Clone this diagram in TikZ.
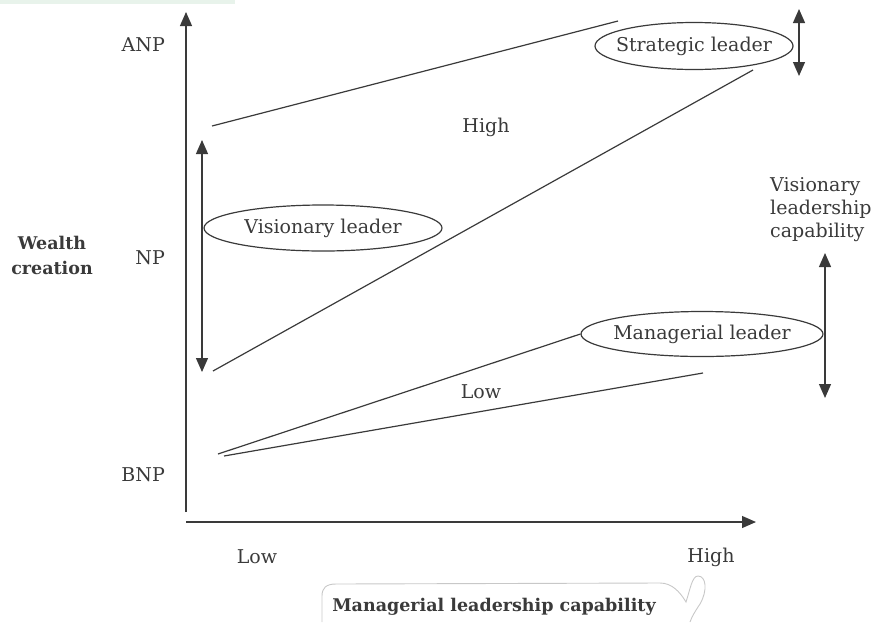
\documentclass[tikz,border=0pt]{standalone}
\usepackage{fontspec}
\setmainfont{DejaVu Serif}
\usetikzlibrary{arrows.meta,shapes.geometric}
\definecolor{ink}{HTML}{3A3A3A}
\definecolor{faint}{HTML}{C8C8C8}
\definecolor{band}{HTML}{E8F3EB}
\begin{document}
\begin{tikzpicture}[x=1pt,y=-1pt,
  every node/.style={text=ink,inner sep=0pt,font=\fontsize{19}{23}\selectfont},
  rule/.style={draw=ink,line width=1.2pt},
  tip/.style={-{Triangle[length=14pt,width=12pt]}},
  twotip/.style={{Triangle[length=14pt,width=12pt]}-{Triangle[length=14pt,width=12pt]}},
  oval/.style={ellipse,draw=ink,line width=1.2pt,inner xsep=-10pt},
  heading/.style={font=\fontsize{17.5}{25}\selectfont\bfseries,align=center}]
\useasboundingbox (0,0) rectangle (878,622);
\fill[band] (0,0) rectangle (235,4);

% axes
\coordinate (ytop) at (186,12);
\coordinate (ybot) at (186,512);
\coordinate (xleft) at (186,522);
\coordinate (xright) at (756,522);
\draw[rule,tip] (ybot) -- (ytop);
\draw[rule,tip] (xleft) -- (xright);

% axis labels
\node[anchor=east] (anp) at (165,45) {ANP};
\node[anchor=east] (np) at (165,258) {NP};
\node[anchor=east] (bnp) at (165,475) {BNP};
\node[heading] (wealth) at (52,255) {Wealth\\creation};
\node (lowx) at (257,557) {Low};
\node (highx) at (711,557) {High};
\node[heading] (mlc) at (494,607) {Managerial leadership capability};

% leader types
\node[oval,minimum width=238pt,minimum height=46pt] (vis) at (323,228) {Visionary leader};
\node[oval,minimum width=198pt,minimum height=47pt] (str) at (694,46) {Strategic leader};
\node[oval,minimum width=242pt,minimum height=45pt] (mgr) at (702,334) {Managerial leader};

% band edges
\coordinate (hiA) at (212,126);
\coordinate (hiB) at (618,21);
\coordinate (midA) at (213,371);
\coordinate (midB) at (753,70);
\coordinate (loA) at (218,454);
\coordinate (loB) at (224,456);
\coordinate (loC) at (703,373);
\draw[rule] (hiA) -- (hiB);
\draw[rule] (midA) -- (midB);
\draw[rule] (loA) -- (mgr.west);
\draw[rule] (loB) -- (loC);
\node (high) at (486,127) {High};
\node (low) at (481,392) {Low};

% spread arrows
\coordinate (vaT) at (202,140);
\coordinate (vaB) at (202,372);
\draw[rule,twotip] (vaT) -- (vaB);
\coordinate (saT) at (799,9);
\coordinate (saB) at (799,76);
\draw[rule,twotip] (saT) -- (saB);
\coordinate (maT) at (825,253);
\coordinate (maB) at (825,398);
\draw[rule,twotip] (maT) -- (maB);
\node[anchor=west,align=left,font=\fontsize{19}{23}\selectfont] (vlc) at (770,210) {Visionary\\leadership\\capability};

% pencil mark round the axis title
\draw[faint,line width=0.9pt] (322,622) -- (322,596) .. controls (322,588) and (326,584) .. (336,584)
  -- (660,583) .. controls (672,583) and (680,592) .. (686,602)
  .. controls (690,590) and (692,576) .. (698,576) .. controls (706,576) and (708,590) .. (700,604)
  .. controls (696,610) and (692,616) .. (690,622);
\end{tikzpicture}
\end{document}
